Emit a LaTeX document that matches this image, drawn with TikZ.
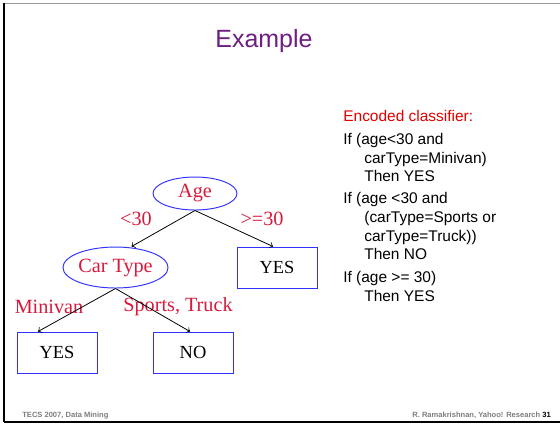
\documentclass[tikz,border=0pt]{standalone}
\usepackage{fontspec}
\setmainfont{Liberation Sans}
\newfontfamily\treefont{Liberation Serif}
\usepackage{tikz}
\usetikzlibrary{shapes}
\usetikzlibrary{calc}
\usetikzlibrary{arrows}
\definecolor{titlepurple}{RGB}{110,30,128}
\definecolor{treered}{RGB}{215,25,60}
\definecolor{boxblue}{RGB}{50,50,255}
\definecolor{rulered}{RGB}{225,0,0}
\definecolor{footgray}{RGB}{125,125,125}
\tikzset{split/.style={ellipse, draw=boxblue, line width=0.55pt, inner sep=0pt,
    text=treered, font=\treefont\fontsize{11.5}{12}\selectfont}}
\tikzset{leaf/.style={rectangle, draw=boxblue, line width=0.55pt, inner sep=0pt,
    minimum width=1.6cm, minimum height=0.82cm, font=\treefont\fontsize{10.5}{12}\selectfont}}
\tikzset{branch/.style={text=treered, inner sep=0pt, font=\treefont\fontsize{11.5}{12}\selectfont}}
\tikzset{rule/.style={inner sep=0pt, anchor=base west, font=\fontsize{8.8}{10}\selectfont}}
\tikzset{foot/.style={inner sep=0pt, anchor=base west, font=\bfseries\fontsize{4.3}{5}\selectfont}}

\begin{document}
\begin{tikzpicture}[x=0.02cm,y=-0.02cm]
  \useasboundingbox (0,0) rectangle (560,424);
  % slide frame
  \draw[gray!80, line width=1.1pt] (4,3.5) -- (560,3.5);
  \draw[black, line width=1.1pt] (4,2.5) -- (4,422);
  \draw[black, line width=1.1pt] (3.5,422) -- (560,422);

  \node[text=titlepurple, inner sep=0pt, anchor=base, font=\fontsize{14.2}{16}\selectfont]
    (title) at (264,47) {Example};

  % the tree
  \node[split, minimum width=1.68cm, minimum height=0.66cm] (age) at (195,193.5) {Age};
  \node[split, minimum width=1.7cm, minimum height=0.82cm] (ctype) at (115.5,267.5) {Car Type};
  \node[leaf] (yesR) at (277,267.5) {YES};
  \node[leaf] (yesL) at (57,352.5) {YES};
  \node[leaf] (no) at (193,352.5) {NO};

  \node[branch] (lt) at (136,219) {<30};
  \node[branch] (ge) at (262,219) {>=30};
  \node[branch] (mini) at (49,307) {Minivan};
  \node[branch] (sport) at (178,307) {Sports, Truck};

  \begin{scope}[line width=0.45pt, >=to]
    \draw[->] (age.south) -- ($(ctype.north)+(16,0)$);
    \draw[->] (age.south) -- ($(yesR.north)+(-4,0)$);
    \draw[->] (ctype.south) -- ($(yesL.north)+(-19,0)$);
    \draw[->] (ctype.south) -- ($(no.north)+(-3,0)$);
  \end{scope}

  % encoded rules
  \node[rule, text=rulered] (head) at (343,121) {Encoded classifier:};
  \foreach \x/\y/\txt [count=\i] in {
    343/144/{If (age<30 and},
    364/163/{carType=Minivan)},
    364/181/{Then YES},
    343/203/{If (age <30 and},
    364/222/{(carType=Sports or},
    364/241/{carType=Truck))},
    364/259/{Then NO},
    343/282/{If (age >= 30)},
    364/301/{Then YES}%
  } {
    \node[rule] (line\i) at (\x,\y) {\txt};
  }

  % footer
  \node[foot, text=footgray] (footL) at (22,417) {TECS 2007, Data Mining};
  \node[foot, text=footgray] (footR) at (412,417) {R. Ramakrishnan, Yahoo! Research};
  \node[foot] (page) at (542,417) {31};
\end{tikzpicture}
\end{document}
